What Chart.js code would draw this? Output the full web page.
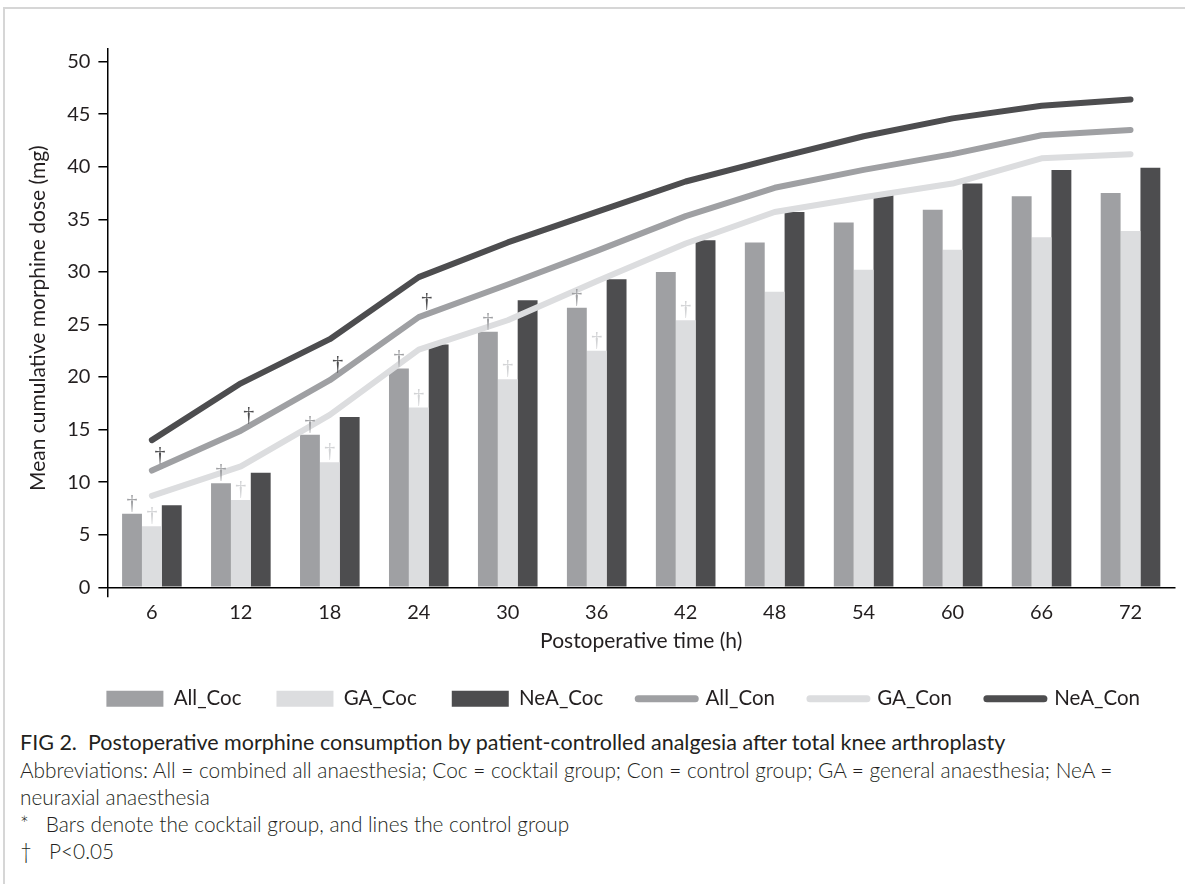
<!DOCTYPE html>
<html>
<head>
<meta charset="utf-8">
<script src="https://cdn.jsdelivr.net/npm/chart.js@4.4.1/dist/chart.umd.min.js"></script>
<style>
  html, body { margin: 0; padding: 0; background: #fff; }
  body { width: 1185px; height: 884px; position: relative; overflow: hidden; font-family: Lato, "Open Sans", sans-serif; color: #231f20; }
  #frame { position: absolute; left: 3px; top: 7px; right: 0; bottom: 0; border-top: 2px solid #d6d6d6; border-left: 2px solid #d6d6d6; }
  #chart { position: absolute; left: 0; top: 0; }
  #cap { position: absolute; left: 20px; top: 729px; width: 1160px; font-size: 20.8px; line-height: 27px; }
  #cap p { margin: 0; font-weight: 300; }
  #cap p.fig { font-weight: 400; font-size: 21.5px; }
</style>
</head>
<body>
<div id="frame"></div>
<canvas id="chart" width="1185" height="719"></canvas>
<div id="cap">
  <p class="fig">FIG 2.&nbsp; Postoperative morphine consumption by patient-controlled analgesia after total knee arthroplasty</p>
  <p>Abbreviations: All = combined all anaesthesia; Coc = cocktail group; Con = control group; GA = general anaesthesia; NeA =<br>neuraxial anaesthesia</p>
  <p>*&nbsp;&nbsp; Bars denote the cocktail group, and lines the control group</p>
  <p>†&nbsp;&nbsp; P&lt;0.05</p>
</div>
<script>
// postoperative time (h)
const hours = ['6', '12', '18', '24', '30', '36', '42', '48', '54', '60', '66', '72'];

// cocktail group (bars)
const allCoc = [7.0, 9.9, 14.5, 20.8, 24.3, 26.6, 30.0, 32.8, 34.7, 35.9, 37.2, 37.5];
const gaCoc  = [5.8, 8.3, 11.9, 17.1, 19.8, 22.5, 25.4, 28.1, 30.2, 32.1, 33.3, 33.9];
const neaCoc = [7.8, 10.9, 16.2, 23.1, 27.3, 29.3, 33.0, 35.7, 37.4, 38.4, 39.7, 39.9];

// control group (lines)
const allCon = [11.1, 14.9, 19.7, 25.7, 28.8, 32.0, 35.3, 38.0, 39.7, 41.2, 43.0, 43.5];
const gaCon  = [8.7, 11.5, 16.4, 22.6, 25.4, 29.1, 32.7, 35.7, 37.1, 38.4, 40.8, 41.2];
const neaCon = [14.0, 19.4, 23.6, 29.5, 32.8, 35.7, 38.6, 40.8, 42.9, 44.6, 45.8, 46.4];

// P<0.05 marks (†)
const sigAllCoc = [1, 1, 1, 1, 1, 1, 0, 0, 0, 0, 0, 0];
const sigGaCoc  = [1, 1, 1, 1, 1, 1, 1, 0, 0, 0, 0, 0];
const sigAllCon = [1, 1, 1, 1, 0, 0, 0, 0, 0, 0, 0, 0];

const yTicks = [0, 5, 10, 15, 20, 25, 30, 35, 40, 45, 50];

const cAll = '#9fa0a3';
const cGa = '#dcdddf';
const cNea = '#4d4d4f';

Chart.defaults.font.family = 'Lato';
Chart.defaults.font.size = 20;
Chart.defaults.color = '#231f20';

function barSet(label, data, color) {
    return {
        type: 'bar',
        label: label,
        data: data,
        backgroundColor: color,
        borderColor: color,
        borderWidth: 0,
        barPercentage: 1.0,
        categoryPercentage: 0.67,
        order: 1
    };
}

function lineSet(label, data, color) {
    return {
        type: 'line',
        label: label,
        data: data,
        borderColor: color,
        backgroundColor: color,
        borderWidth: 6,
        borderCapStyle: 'round',
        borderJoinStyle: 'round',
        pointRadius: 0,
        tension: 0,
        fill: false,
        order: 0
    };
}

// draws the daggers above the marks that are significant
const daggerPlugin = {
    id: 'daggers',
    afterDatasetsDraw(chart) {
        const marks = [
            { ds: 0, flags: sigAllCoc, color: cAll, dx: 0, lift: 5 },
            { ds: 1, flags: sigGaCoc, color: '#d2d3d5', dx: 0, lift: 5 },
            { ds: 3, flags: sigAllCon, color: cNea, dx: 8, lift: 10 }
        ];
        const ctx = chart.ctx;
        ctx.save();
        ctx.font = '22px "Liberation Serif"';
        ctx.textAlign = 'center';
        ctx.textBaseline = 'alphabetic';
        marks.forEach(m => {
            const meta = chart.getDatasetMeta(m.ds);
            m.flags.forEach((f, i) => {
                if (!f) return;
                const el = meta.data[i];
                ctx.fillStyle = m.color;
                ctx.fillText('\u2020', el.x + m.dx, el.y - m.lift);
            });
        });
        ctx.restore();
    }
};

const ctx = document.getElementById('chart').getContext('2d');

new Chart(ctx, {
    data: {
        labels: hours,
        datasets: [
            barSet('All_Coc', allCoc, cAll),
            barSet('GA_Coc', gaCoc, cGa),
            barSet('NeA_Coc', neaCoc, cNea),
            lineSet('All_Con', allCon, cAll),
            lineSet('GA_Con', gaCon, cGa),
            lineSet('NeA_Con', neaCon, cNea)
        ]
    },
    options: {
        responsive: false,
        animation: false,
        events: [],
        layout: {
            padding: { top: 49, left: 26, right: 10, bottom: 0 }
        },
        scales: {
            x: {
                type: 'category',
                offset: true,
                border: { display: true, color: '#000', width: 1.5 },
                grid: {
                    offset: true,
                    drawOnChartArea: false,
                    drawTicks: true,
                    tickLength: 10,
                    lineWidth: 1.5,
                    color: (c) => c.index === 0 ? '#000' : 'rgba(0,0,0,0)'
                },
                ticks: { padding: 3, color: '#231f20', font: { size: 20 } },
                title: {
                    display: true,
                    text: 'Postoperative time (h)',
                    color: '#231f20',
                    font: { size: 21 },
                    padding: { top: 1, bottom: 0 }
                }
            },
            y: {
                min: 0,
                max: 51.2,
                border: { display: true, color: '#000', width: 1.5 },
                grid: {
                    drawOnChartArea: false,
                    drawTicks: true,
                    tickLength: 9,
                    lineWidth: 1.5,
                    color: '#000'
                },
                afterBuildTicks: (axis) => {
                    axis.ticks = yTicks.map(v => ({ value: v }));
                },
                ticks: { padding: 8, color: '#231f20', font: { size: 20 } },
                title: {
                    display: true,
                    text: 'Mean cumulative morphine dose (mg)',
                    color: '#231f20',
                    font: { size: 21 },
                    padding: { top: 0, bottom: 8 }
                }
            }
        },
        plugins: {
            legend: {
                position: 'bottom',
                align: 'end',
                labels: {
                    usePointStyle: true,
                    pointStyleWidth: 57,
                    boxHeight: 16,
                    padding: 35,
                    color: '#231f20',
                    font: { size: 20.5 },
                    generateLabels: (chart) => chart.data.datasets.map((ds, i) => ({
                        text: ds.label,
                        datasetIndex: i,
                        fillStyle: ds.backgroundColor,
                        strokeStyle: ds.borderColor,
                        lineWidth: ds.type === 'line' ? 7 : 0,
                        lineCap: 'round',
                        pointStyle: ds.type === 'line' ? 'line' : 'rect',
                        hidden: false,
                        fontColor: '#231f20'
                    }))
                }
            },
            tooltip: { enabled: false }
        }
    },
    plugins: [daggerPlugin]
});
</script>
</body>
</html>
